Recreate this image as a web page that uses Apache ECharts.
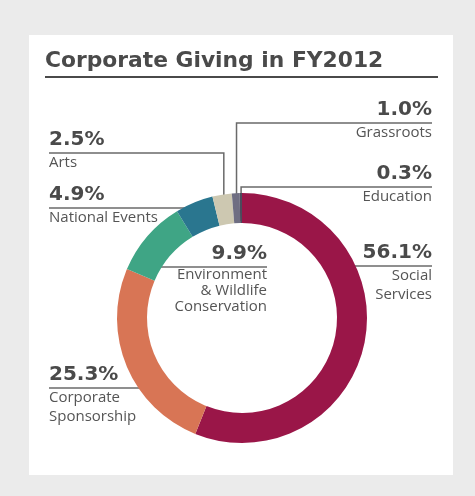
<!DOCTYPE html>
<html>
<head>
<meta charset="utf-8">
<script src="https://cdn.jsdelivr.net/npm/echarts@6/dist/echarts.min.js"></script>
<style>
  html, body { margin: 0; padding: 0; background: #ebebeb; }
  #chart { width: 475px; height: 496px; }
</style>
</head>
<body>
<div id="chart"></div>
<script>
// Giving categories, clockwise from 12 o'clock
const categories = ['Social Services', 'Corporate Sponsorship', 'Environment & Wildlife Conservation',
  'National Events', 'Arts', 'Grassroots', 'Education'];
// Share of corporate giving, percent
const shares = [56.1, 25.3, 9.9, 4.9, 2.5, 1.0, 0.3];
// Text printed under each percentage
const nameLines = [['Social', 'Services'], ['Corporate', 'Sponsorship'], ['Environment', '& Wildlife', 'Conservation'],
  ['National Events'], ['Arts'], ['Grassroots'], ['Education']];
const colors = ['#9a1648', '#d87555', '#3fa585', '#2a768f', '#cdc8b1', '#6f6e82', '#4b4b5c'];

const CX = 242, CY = 318, R_IN = 95, R_OUT = 125;
const BOLD_FONT = '"DejaVu Sans", sans-serif';
const FONT = '"Open Sans", "Noto Sans", sans-serif';

// Callout placement: label edge x, y of the rule under the percentage,
// and how the leader reaches its slice (horizontal tip x, or vertical at mid-angle radius)
const callouts = [
  { x: 432, lineY: 266, align: 'right', tipX: 338 },
  { x: 49,  lineY: 388, align: 'left',  tipX: 158 },
  { x: 267, lineY: 267, align: 'right', tipX: 147, nameLH: 16 },
  { x: 49,  lineY: 208, align: 'left',  tipX: 202 },
  { x: 49,  lineY: 153, align: 'left',  tipR: 114 },
  { x: 432, lineY: 123, align: 'right', tipR: 109 },
  { x: 432, lineY: 187, align: 'right', tipR: 97 }
];

const total = shares.reduce((a, b) => a + b, 0);
const midAngles = [];
let cum = 0;
shares.forEach(v => { midAngles.push((cum + v / 2) / total * 2 * Math.PI); cum += v; });

const chart = echarts.init(document.getElementById('chart'), null, { renderer: 'canvas' });

chart.setOption({
  backgroundColor: '#ebebeb',
  animation: false,
  title: {
    text: 'Corporate Giving in FY2012',
    left: 45, top: 50, padding: 0,
    textStyle: { fontFamily: BOLD_FONT, fontWeight: 'bold', fontSize: 21.8, color: '#4a4a4a' }
  },
  graphic: [
    { type: 'rect', z: -10, shape: { x: 29, y: 35, width: 424, height: 440 }, style: { fill: '#ffffff' } },
    { type: 'line', shape: { x1: 45, y1: 77, x2: 438, y2: 77 }, style: { stroke: '#4a4a4a', lineWidth: 2 } }
  ],
  series: [{
    type: 'pie',
    center: [CX, CY],
    radius: [R_IN, R_OUT],
    startAngle: 90,
    clockwise: true,
    avoidLabelOverlap: false,
    emphasis: { disabled: true },
    itemStyle: { borderWidth: 0 },
    data: categories.map((c, i) => ({
      name: c,
      value: shares[i],
      itemStyle: { color: colors[i] },
      label: {
        rich: {
          p: { fontFamily: BOLD_FONT, fontWeight: 'bold', fontSize: 20, color: '#4a4a4a', lineHeight: 27 },
          n: { fontFamily: FONT, fontSize: 15, color: '#555555', lineHeight: callouts[i].nameLH || 19 }
        }
      }
    })),
    label: {
      show: true,
      position: 'outside',
      formatter: p => `{p|${p.value.toFixed(1)}%}\n` + nameLines[p.dataIndex].map(t => `{n|${t}}`).join('\n')
    },
    labelLine: { show: true, smooth: false, lineStyle: { color: '#6a6a6a', width: 1.5 } },
    labelLayout: params => {
      const i = params.dataIndex;
      const c = callouts[i];
      let pts;
      if (c.tipR != null) {
        const a = midAngles[i];
        const tx = CX + c.tipR * Math.sin(a);
        const ty = CY - c.tipR * Math.cos(a);
        pts = [[tx, ty], [tx, c.lineY], [c.x, c.lineY]];
      } else {
        pts = [[c.tipX, c.lineY], [c.tipX, c.lineY], [c.x, c.lineY]];
      }
      return {
        x: c.x,
        y: c.lineY - 27,
        align: c.align,
        verticalAlign: 'top',
        labelLinePoints: pts
      };
    }
  }]
});
</script>
</body>
</html>
